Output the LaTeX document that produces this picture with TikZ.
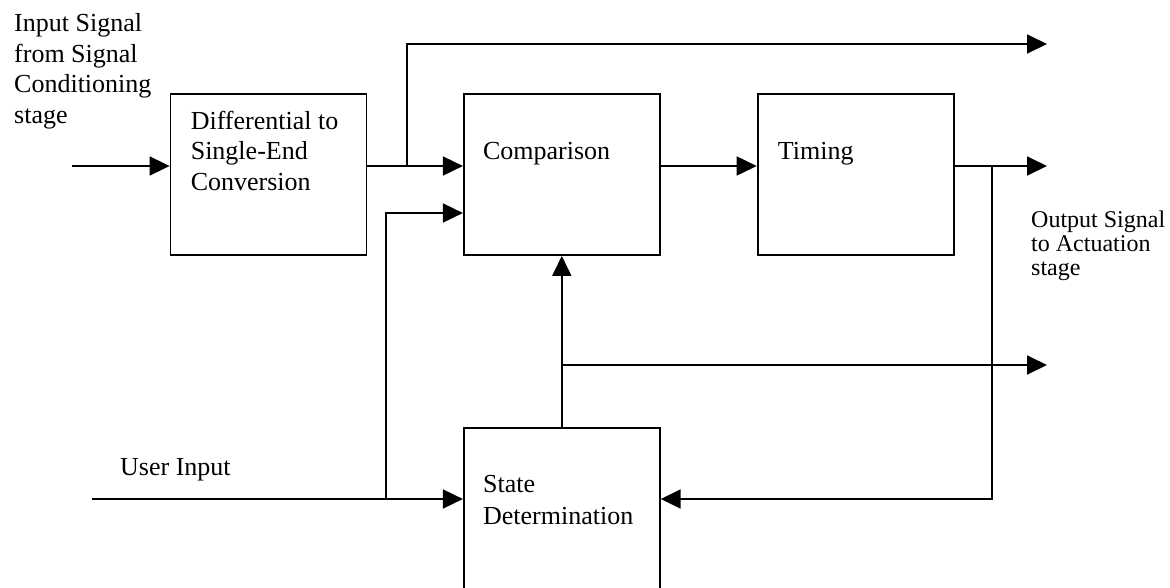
\documentclass[tikz,border=0pt]{standalone}
\usepackage{fontspec}
\setmainfont{Liberation Serif}
\usetikzlibrary{positioning,arrows.meta,calc}

\begin{document}
\begin{tikzpicture}[
    x=1pt, y=-1pt,
    >={Triangle[length=20pt, width=19pt]},
    every node/.style={font=\fontsize{26}{30.5}\selectfont},
    block/.style={draw, line width=1.8pt, minimum width=196pt, minimum height=161pt, inner sep=0pt},
    blocktext/.style={align=left, inner sep=0pt, anchor=base west},
    sigline/.style={line width=1.8pt},
    sigarrow/.style={sigline, ->},
    node distance=95.5pt,
]
\useasboundingbox (0,0) rectangle (1170,587);
\clip (0,0) rectangle (1170,587);

% ---- Blocks ----
\node[block] (diff) at (268.5,174.5) {};
\node[block, right=of diff] (comp) {};
\node[block, right=96pt of comp] (timing) {};
\node[block, below=171.5pt of comp] (state) {};

% block texts sit on the baseline of their last line
\node[blocktext] (difftxt) at ([shift={(21,97)}]diff.north west) {Differential to\\Single-End\\Conversion};
\node[blocktext] (comptxt) at ([shift={(20,66)}]comp.north west) {Comparison};
\node[blocktext] (timtxt) at ([shift={(21,66)}]timing.north west) {Timing};
\node[blocktext] (statetxt) at ([shift={(20,97)}]state.north west) {State\\[1.5pt]Determination};

% ---- Labels ----
\node[blocktext] (inlabel) at (14,123) {Input Signal\\from Signal\\Conditioning\\stage};
\node[blocktext] (userlabel) at (120,475) {User Input};
\node[blocktext, font=\fontsize{24}{24}\selectfont] (outlabel) at (1031,275) {Output Signal\\to Actuation\\stage};

% ---- Free ends and branch points ----
\coordinate (insrc) at (72,166);
\coordinate (usrsrc) at (92,499);
\coordinate (outtop) at (1047,44);
\coordinate (outmid) at (1047,166);
\coordinate (outlow) at (1047,365);
\coordinate (splitdiff) at (407,166);
\coordinate (splituser) at (386,499);
\coordinate (splittim) at (992,166);
\coordinate (splitstate) at (561.5,365);
\coordinate (compin) at ($(comp.west)+(0,38.5)$);

% ---- Signal path ----
\draw[sigarrow] (insrc) -- (insrc -| diff.west);
\draw[sigarrow] (diff.east |- insrc) -- (insrc -| comp.west);
\draw[sigarrow] (splitdiff) |- (outtop);
\draw[sigarrow] (comp.east |- insrc) -- (insrc -| timing.west);
\draw[sigarrow] (timing.east |- insrc) -- (outmid);

% Feedback into state block
\draw[sigarrow] (splittim) |- (state.east |- usrsrc);
\draw[sigarrow] (usrsrc) -- (usrsrc -| state.west);
\draw[sigarrow] (splituser) |- (compin);
\draw[sigarrow] (state.north) -- (comp.south);
\draw[sigarrow] (splitstate) -- (outlow);

\end{tikzpicture}
\end{document}
